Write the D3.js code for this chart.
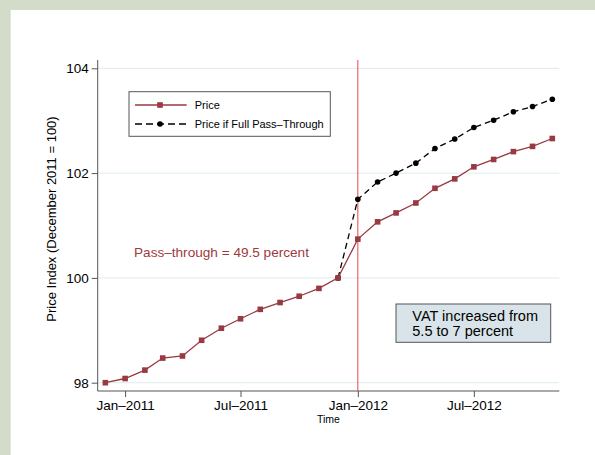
<!DOCTYPE html>
<html>
<head>
<meta charset="utf-8">
<script src="https://cdn.jsdelivr.net/npm/d3@7"></script>
<style>
  html, body { margin: 0; padding: 0; background: #fff; }
  svg { display: block; font-family: "Liberation Sans", Arial, Helvetica, sans-serif; }
</style>
</head>
<body>
<svg id="chart" width="595" height="455"></svg>
<script>
// ---- Data ----
const months = [
  "2010-12","2011-01","2011-02","2011-03","2011-04","2011-05","2011-06",
  "2011-07","2011-08","2011-09","2011-10","2011-11","2011-12",
  "2012-01","2012-02","2012-03","2012-04","2012-05","2012-06",
  "2012-07","2012-08","2012-09","2012-10","2012-11"
];
const price = [
  98.00, 98.08, 98.24, 98.47, 98.51, 98.81, 99.04,
  99.22, 99.40, 99.53, 99.65, 99.80, 100.00,
  100.74, 101.07, 101.24, 101.43, 101.71, 101.89,
  102.12, 102.26, 102.41, 102.51, 102.66
];
const fullMonths = [
  "2011-12","2012-01","2012-02","2012-03","2012-04","2012-05","2012-06",
  "2012-07","2012-08","2012-09","2012-10","2012-11"
];
const fullPass = [
  100.00, 101.50, 101.83, 102.00, 102.19, 102.47, 102.65,
  102.87, 103.01, 103.17, 103.27, 103.41
];
const yTicks = [98, 100, 102, 104];
const xTicks = ["2011-01", "2011-07", "2012-01", "2012-07"];
const vatMonth = "2012-01";
const legendLabels = ["Price", "Price if Full Pass\u2013Through"];
const yTitle = "Price Index (December 2011 = 100)";
const xTitle = "Time";
const passText = "Pass\u2013through = 49.5 percent";
const vatText = ["VAT increased from", "5.5 to 7 percent"];

// ---- Setup ----
(function () {
const parse = d3.utcParse("%Y-%m");
const svg = d3.select("#chart");
const W = 595, H = 455;

svg.append("rect").attr("width", W).attr("height", H).attr("fill", "#d3dbc9");
svg.append("rect").attr("x", 10.7).attr("y", 10).attr("width", W - 10.7).attr("height", H - 10).attr("fill", "#ffffff");

const pL = 97.7, pR = 559.3, pT = 60, pB = 391;
const x = d3.scaleUtc()
  .domain([new Date(Date.UTC(2010, 10, 19)), new Date(Date.UTC(2012, 10, 12))])
  .range([pL, pR]);
const y = d3.scaleLinear().domain([98, 104]).range([382.7, 68.3]);

const red = "#983a41";
const fmt = d => d3.utcFormat("%b")(d) + "\u2013" + d3.utcFormat("%Y")(d);

// gridlines
svg.append("g").selectAll("line").data(yTicks).join("line")
  .attr("x1", pL).attr("x2", pR)
  .attr("y1", d => y(d)).attr("y2", d => y(d))
  .attr("stroke", "#e6efef").attr("stroke-width", 1.2);

// axes
const yAxis = svg.append("g").attr("transform", `translate(${pL},0)`)
  .call(d3.axisLeft(y).tickValues(yTicks).tickSize(6).tickPadding(3).tickFormat(d3.format("d")));
yAxis.select(".domain").attr("d", `M0,${pT}V${pB}`);
const xAxis = svg.append("g").attr("transform", `translate(0,${pB})`)
  .call(d3.axisBottom(x).tickValues(xTicks.map(parse)).tickSize(6).tickPadding(3).tickFormat(fmt));
xAxis.select(".domain").attr("d", `M${pL},0H${pR}`);
[yAxis, xAxis].forEach(a => {
  a.selectAll(".domain").attr("stroke", "#555").attr("stroke-width", 1);
  a.selectAll(".tick line").attr("stroke", "#555");
  a.selectAll(".tick text").attr("font-size", "13.5px").attr("fill", "#000")
    .attr("font-family", "Liberation Sans, Arial, sans-serif");
});

// axis titles
svg.append("text").attr("transform", "translate(56,219) rotate(-90)")
  .attr("text-anchor", "middle").attr("font-size", "13px").text(yTitle);
svg.append("text").attr("x", (pL + pR) / 2).attr("y", 422.5)
  .attr("text-anchor", "middle").attr("font-size", "10.5px").text(xTitle);

// VAT vertical line
svg.append("line")
  .attr("x1", x(parse(vatMonth))).attr("x2", x(parse(vatMonth)))
  .attr("y1", pT).attr("y2", pB)
  .attr("stroke", "#e8474d").attr("stroke-width", 1);

// full pass-through series
const fpData = fullMonths.map((m, i) => ({ d: parse(m), v: fullPass[i] }));
const line = d3.line().x(d => x(d.d)).y(d => y(d.v));
svg.append("path").datum(fpData).attr("d", line)
  .attr("fill", "none").attr("stroke", "#000").attr("stroke-width", 1.3)
  .attr("stroke-dasharray", "6,4");
svg.append("g").selectAll("circle").data(fpData).join("circle")
  .attr("cx", d => x(d.d)).attr("cy", d => y(d.v)).attr("r", 2.8).attr("fill", "#000");

// price series
const pData = months.map((m, i) => ({ d: parse(m), v: price[i] }));
svg.append("path").datum(pData).attr("d", line)
  .attr("fill", "none").attr("stroke", red).attr("stroke-width", 1.3);
svg.append("g").selectAll("rect").data(pData).join("rect")
  .attr("x", d => x(d.d) - 2.8).attr("y", d => y(d.v) - 2.8)
  .attr("width", 5.6).attr("height", 5.6).attr("fill", red);

// legend
const lg = svg.append("g");
lg.append("rect").attr("x", 129).attr("y", 91.7).attr("width", 201.3).attr("height", 44.6)
  .attr("fill", "#fff").attr("stroke", "#555").attr("stroke-width", 1);
lg.append("line").attr("x1", 135).attr("x2", 186.7).attr("y1", 105).attr("y2", 105)
  .attr("stroke", red).attr("stroke-width", 1.3);
lg.append("rect").attr("x", 160 - 2.8).attr("y", 105 - 2.8).attr("width", 5.6).attr("height", 5.6).attr("fill", red);
lg.append("line").attr("x1", 135).attr("x2", 186.7).attr("y1", 124).attr("y2", 124)
  .attr("stroke", "#000").attr("stroke-width", 1.3).attr("stroke-dasharray", "7,4");
lg.append("circle").attr("cx", 160).attr("cy", 124).attr("r", 2.8).attr("fill", "#000");
lg.selectAll("text").data(legendLabels).join("text")
  .attr("x", 194.7).attr("y", (d, i) => [109, 128][i])
  .attr("font-size", "11px").text(d => d);

// annotations
svg.append("text").attr("x", 134).attr("y", 256.7)
  .attr("font-size", "13.6px").attr("fill", "#a03a40").text(passText);

svg.append("rect").attr("x", 396).attr("y", 304).attr("width", 154.7).attr("height", 38.3)
  .attr("fill", "#d9e4ea").attr("stroke", "#555").attr("stroke-width", 1);
svg.append("g").selectAll("text").data(vatText).join("text")
  .attr("x", 412.3).attr("y", (d, i) => [320.6, 336.2][i])
  .attr("font-size", "14.5px").attr("fill", "#000").text(d => d);
})();
</script>
</body>
</html>
